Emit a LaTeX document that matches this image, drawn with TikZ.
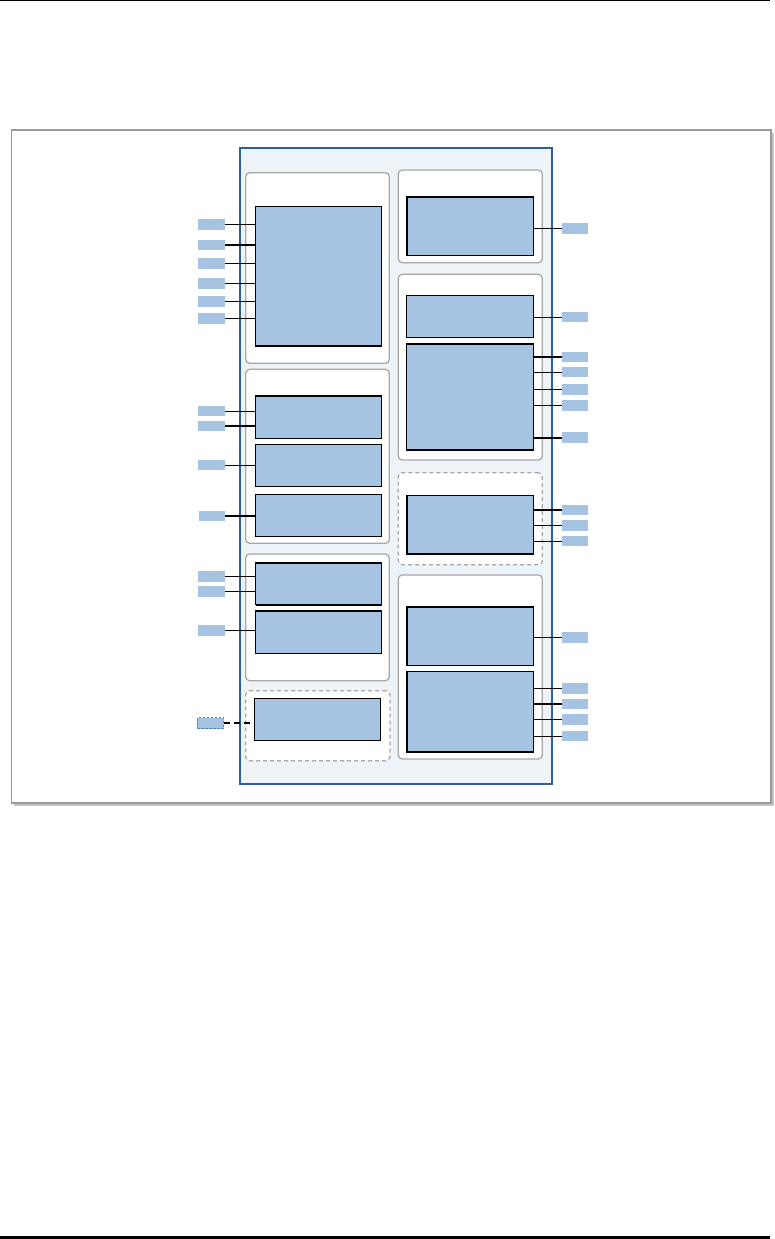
\documentclass[tikz,border=0pt]{standalone}
\usetikzlibrary{positioning}
\definecolor{blk}{HTML}{A6C4E2}
\definecolor{chipblue}{HTML}{2F5F94}
\definecolor{chipbg}{HTML}{EEF3F8}
\definecolor{panelgray}{HTML}{A8A8A8}
\definecolor{framegray}{HTML}{999999}
\definecolor{shadowgray}{HTML}{C4C4C4}
\definecolor{pinborder}{HTML}{4A86C6}
\tikzset{
  blockbox/.style={draw=black, fill=blk, line width=1pt, inner sep=0pt, outer sep=0pt, anchor=north west},
  heavybox/.style={blockbox, line width=1.6pt},
  panelbox/.style={draw=panelgray, fill=white, line width=1.3pt, rounded corners=4pt, inner sep=0pt, outer sep=0pt, anchor=north west},
  dpanelbox/.style={panelbox, dashed, dash pattern=on 4pt off 3pt},
  pinbox/.style={fill=blk, draw=none, inner sep=0pt, outer sep=0pt, minimum width=27pt, minimum height=10.7pt},
  dpinbox/.style={pinbox, draw=pinborder, dashed, dash pattern=on 2.5pt off 1.5pt, line width=0.9pt, minimum height=11pt},
  wire/.style={draw=black, line width=1pt},
  bus/.style={draw=black, line width=2pt},
}
\begin{document}
\begin{tikzpicture}[x=1pt,y=-1pt]
\useasboundingbox (0,0) rectangle (774,1239);
% page rules
\draw[line width=1pt] (0,0.6) -- (770,0.6);
\draw[line width=3pt] (0,1237.4) -- (770,1237.4);
% frame with shadow
\fill[shadowgray] (14,132.5) rectangle (773.5,805.5);
\draw[draw=framegray, fill=white, line width=1.5pt] (11.5,130) rectangle (771,803);
% chip
\node[draw=chipblue, fill=chipbg, line width=2pt, inner sep=0pt, anchor=north west, minimum width=311.7pt, minimum height=636pt] (chip) at (239,146.7) {};
% left panels
\node[panelbox, minimum width=143.6pt, minimum height=190.6pt] (P1) at (245.7,172.7) {};
\node[panelbox, minimum width=143.6pt, minimum height=174pt] (P2) at (245.7,369.3) {};
\node[panelbox, minimum width=143.6pt, minimum height=126.7pt] (P3) at (245.7,554) {};
\node[dpanelbox, minimum width=144.3pt, minimum height=70pt] (P4) at (245.7,690.7) {};
% right panels
\node[panelbox, minimum width=144pt, minimum height=92.7pt] (R1) at (398.3,170) {};
\node[panelbox, minimum width=144pt, minimum height=185.7pt] (R2) at (398.3,274.3) {};
\node[dpanelbox, minimum width=144pt, minimum height=92pt] (R3) at (398.3,472.7) {};
\node[panelbox, minimum width=144pt, minimum height=184pt] (R4) at (398.3,575) {};
% left blocks
\node[blockbox, minimum width=126pt, minimum height=139.7pt] (A) at (255.7,206.3) {};
\draw[line width=2pt] (A.south west) -- (A.south east);
\node[blockbox, minimum width=126pt, minimum height=42.6pt] (B1) at (255.7,395.7) {};
\draw[line width=2pt] (B1.north west) -- (B1.north east);
\node[blockbox, minimum width=126pt, minimum height=42pt] (B2) at (255.7,444.3) {};
\node[blockbox, minimum width=126pt, minimum height=41.7pt] (B3) at (255.7,494.3) {};
\node[blockbox, minimum width=126pt, minimum height=42pt] (C1) at (255.7,562.7) {};
\draw[line width=2pt] (C1.north west) -- (C1.north east);
\draw[line width=2pt] (C1.south west) -- (C1.south east);
\node[blockbox, minimum width=126pt, minimum height=42.6pt] (C2) at (255.7,610.7) {};
\draw[line width=2pt] (C2.north west) -- (C2.north east);
\node[blockbox, minimum width=126.4pt, minimum height=41.6pt] (D) at (254.3,698.7) {};
% right blocks
\node[heavybox, minimum width=126.6pt, minimum height=58.6pt] (E) at (406.7,196.7) {};
\node[blockbox, minimum width=126.6pt, minimum height=42pt] (F1) at (406.7,295.3) {};
\node[blockbox, minimum width=126.6pt, minimum height=106.3pt] (F2) at (406.7,343.7) {};
\draw[line width=2pt] (F2.north west) -- (F2.north east);
\draw[line width=2pt] (F2.south west) -- (F2.south east);
\node[heavybox, minimum width=126.6pt, minimum height=58.7pt] (G) at (406.7,495.3) {};
\node[heavybox, minimum width=126.6pt, minimum height=58.6pt] (H1) at (406.7,606.7) {};
\node[heavybox, minimum width=126.6pt, minimum height=80.7pt] (H2) at (406.7,671.3) {};
% left pins
\foreach \n/\y/\t/\b in {a1/224.3/wire/A, a2/245/bus/A, a3/263.3/wire/A, a4/283.3/wire/A, a5/301.3/wire/A, a6/318.3/wire/A,
  b1/411/wire/B1, b2/426/bus/B1, b3/465/wire/B2, c1/576.7/wire/C1, c2/591.7/wire/C1, c3/630.7/wire/C2}{
  \node[pinbox] (p\n) at (211.5,\y) {};
  \draw[\t] (p\n.east) -- (\b.west |- p\n.east);
}
\node[pinbox, minimum width=26pt] (pb4) at (212,516) {};
\draw[bus] (pb4.east) -- (B3.west |- pb4.east);
\node[dpinbox, minimum width=26.4pt] (pd1) at (210.5,723.3) {};
\draw[line width=2pt, dashed, dash pattern=on 6pt off 4pt] (pd1.east) -- (D.west |- pd1.east);
% right pins
\foreach \n/\y/\t/\b in {e1/228.3/wire/E, f1/317/wire/F1, f2/357/bus/F2, f3/372/wire/F2, f4/389.3/wire/F2, f5/405.3/wire/F2, f6/437.7/bus/F2,
  g1/510/bus/G, g2/525.7/wire/G, g3/541/wire/G, h1/637.3/wire/H1, h2/688.7/wire/H2, h3/704/bus/H2, h4/719.3/wire/H2, h5/736/wire/H2}{
  \node[pinbox, minimum width=26pt] (p\n) at (575,\y) {};
  \draw[\t] (p\n.west) -- (\b.east |- p\n.west);
}
\end{tikzpicture}
\end{document}
